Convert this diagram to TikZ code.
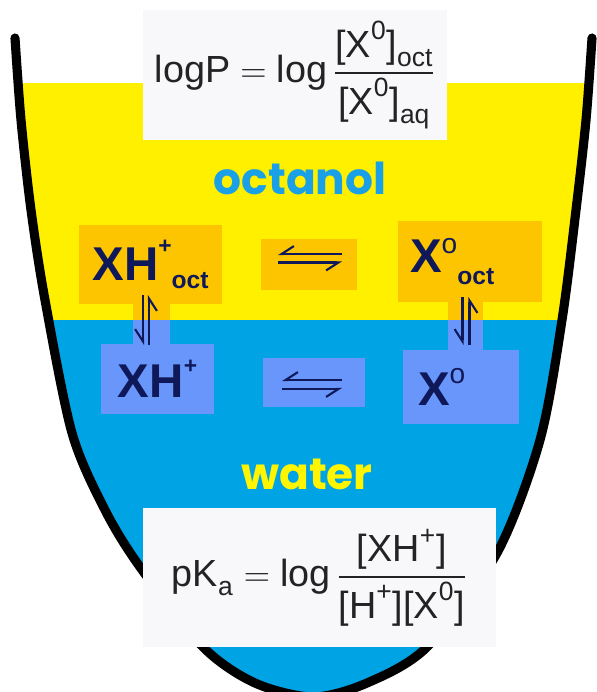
\documentclass[tikz,border=0pt]{standalone}
\usepackage{amsmath}
\usepackage{fontspec}
\setmainfont{Liberation Sans}
\newfontfamily\decofont{Poppins}
\usepackage{xcolor}
\usetikzlibrary{positioning, arrows.meta, calc}

\definecolor{octyellow}{RGB}{255,240,0}
\definecolor{waterblue}{RGB}{0,163,228}
\definecolor{octorange}{RGB}{253,197,0}
\definecolor{aqviolet}{RGB}{104,150,250}
\definecolor{ink}{RGB}{15,25,90}
\definecolor{formgray}{RGB}{248,248,250}
\definecolor{formink}{RGB}{35,35,35}
\definecolor{octblue}{RGB}{25,160,230}
\definecolor{wateryellow}{RGB}{255,245,0}

\begin{document}
\begin{tikzpicture}[
        x=0.02cm, y=-0.02cm,
        formbox/.style={rectangle, fill=formgray, text=formink, inner sep=0pt, font=\fontsize{21.5}{25}\selectfont},
        octbox/.style={rectangle, fill=octorange, text=ink, inner sep=0pt, font=\fontsize{27}{30}\selectfont\bfseries},
        aqbox/.style={rectangle, fill=aqviolet, text=ink, inner sep=0pt, font=\fontsize{27}{30}\selectfont\bfseries},
        harp/.style={-{Straight Barb[harpoon, swap, length=7pt, width=9pt]}, line width=1.2pt, draw=ink},
        phase/.style={font=\decofont\fontsize{25}{28}\selectfont\bfseries}
    ]

    \useasboundingbox (0,0) rectangle (597,692);
    \clip (0,0) rectangle (597,692);

    \begin{scope}
        \clip plot[smooth] coordinates {(15,38) (21,120) (31,210) (45,300) (72,433) (105,510) (140,567) (203,647) (255,683) (313,697) (367,683) (427,647) (497,553) (540,440) (562,320) (576,210) (586,120) (592,38)} -- cycle;
        \fill[octyellow] (0,83) rectangle (597,320);
        \fill[waterblue] (0,320) rectangle (597,720);
    \end{scope}
    \draw[line width=5.2pt, line cap=round, line join=round] plot[smooth] coordinates {(15,38) (21,120) (31,210) (45,300) (72,433) (105,510) (140,567) (203,647) (255,683) (313,697) (367,683) (427,647) (497,553) (540,440) (562,320) (576,210) (586,120) (592,38)};

    \node[formbox, minimum width=6.08cm, minimum height=2.6cm] (logp) at (295,75) {$\text{logP} = \text{log}\,\dfrac{\text{[X}^{\text{0}}\text{]}_{\text{oct}}}{\text{[X}^{\text{0}}\text{]}_{\text{aq}}}$};
    \node[phase, text=octblue] (octanol) at (300,178) {octanol};

    \node[octbox, minimum width=2.86cm, minimum height=1.58cm] (xhoct) at (150.5,264.5) {XH\raisebox{0.55em}{\fontsize{13}{13}\selectfont+}\raisebox{-0.17em}{\fontsize{14}{14}\selectfont oct}};
    \node[octbox, minimum width=1.92cm, minimum height=1.02cm] (eqoct) at (309,264.5) {};
    \node[octbox, text width=2.4cm, inner xsep=0.24cm, minimum height=1.62cm, align=left] (xoct) at (470,261.5) {X\raisebox{0.4em}{\fontsize{16}{16}\selectfont\mdseries o}\raisebox{-0.27em}{\fontsize{14}{14}\selectfont oct}};

    \fill[octorange] (133,304) rectangle (170,320);
    \fill[aqviolet] (133,320) rectangle (170,344);
    \fill[octorange] (448,302) rectangle (483,320);
    \fill[aqviolet] (448,320) rectangle (483,350);

    \node[aqbox, minimum width=2.26cm, minimum height=1.4cm] (xh) at (157.5,379) {XH\raisebox{0.5em}{\fontsize{13}{13}\selectfont+}};
    \node[aqbox, minimum width=2.04cm, minimum height=0.98cm] (eqaq) at (314,382.5) {};
    \node[aqbox, text width=1.72cm, inner xsep=0.3cm, minimum height=1.48cm, align=left] (xaq) at (461,387) {X\raisebox{0.45em}{\fontsize{16}{16}\selectfont\mdseries o}};

    \coordinate (vl) at (146,320);
    \coordinate (vr) at (466,321);

    \draw[harp] ($(eqoct)+(33,-10.5)$) -- ($(eqoct)+(-31,-10.5)$);
    \draw[harp] ($(eqoct)+(-31,-2)$) -- ($(eqoct)+(33,-2)$);
    \draw[harp] ($(eqaq)+(28,-2.5)$) -- ($(eqaq)+(-32,-2.5)$);
    \draw[harp] ($(eqaq)+(-32,6.5)$) -- ($(eqaq)+(28,6.5)$);
    \draw[harp] ($(vl)+(-3,-25)$) -- ($(vl)+(-3,25)$);
    \draw[harp] ($(vl)+(3,25)$) -- ($(vl)+(3,-25)$);
    \draw[harp] ($(vr)+(-3.5,-24)$) -- ($(vr)+(-3.5,24)$);
    \draw[harp] ($(vr)+(3.5,24)$) -- ($(vr)+(3.5,-24)$);

    \node[phase, text=wateryellow] (water) at (307,474) {water};
    \node[formbox, minimum width=7.06cm, minimum height=2.78cm] (pka) at (319.5,577.5) {$\text{pK}_{\text{a}} = \text{log}\,\dfrac{\text{[XH}^{\text{+}}\text{]}}{\text{[H}^{\text{+}}\text{][X}^{\text{0}}\text{]}}$};

\end{tikzpicture}
\end{document}
